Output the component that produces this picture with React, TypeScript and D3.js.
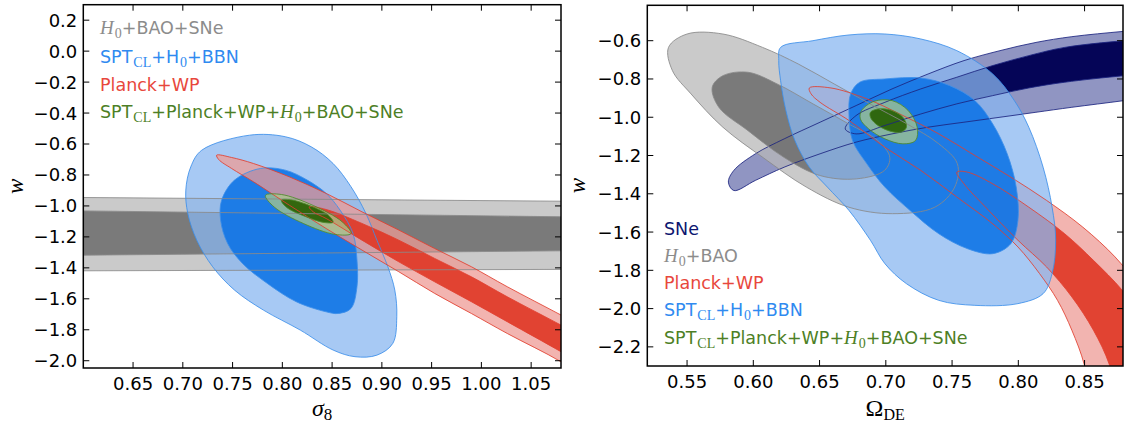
import React from 'react';
import * as d3 from 'd3';

type Pt = [number, number];

// ---- left panel: sigma_8 vs w ----
const sigma8Ticks = [0.65, 0.7, 0.75, 0.8, 0.85, 0.9, 0.95, 1.0, 1.05];
const wTicksLeft = [0.2, 0.0, -0.2, -0.4, -0.6, -0.8, -1.0, -1.2, -1.4, -1.6, -1.8, -2.0];

const grayBandOuter: Pt[] = [[0.55, -0.943], [1.13, -0.972], [1.13, -1.409], [0.55, -1.42]];
const grayBandInner: Pt[] = [[0.55, -1.028], [1.13, -1.074], [1.13, -1.287], [0.55, -1.321]];

const sptLeftOuter: Pt[] = [
  [0.767, -0.543], [0.719, -0.64], [0.708, -0.747], [0.703, -0.898], [0.705, -1.049], [0.714, -1.221],
  [0.73, -1.393], [0.752, -1.544], [0.781, -1.673], [0.818, -1.802], [0.851, -1.931], [0.873, -1.974],
  [0.895, -1.964], [0.911, -1.888], [0.915, -1.716], [0.913, -1.544], [0.906, -1.393], [0.895, -1.221],
  [0.884, -1.049], [0.869, -0.876], [0.851, -0.726], [0.829, -0.618], [0.803, -0.553],
];
const sptLeftInner: Pt[] = [
  [0.778, -0.758], [0.752, -0.833], [0.739, -0.963], [0.738, -1.092], [0.745, -1.242], [0.76, -1.372],
  [0.785, -1.501], [0.814, -1.619], [0.844, -1.684], [0.856, -1.695], [0.869, -1.662], [0.875, -1.522],
  [0.875, -1.35], [0.871, -1.178], [0.858, -1.027], [0.844, -0.919], [0.825, -0.833], [0.803, -0.769],
];
const planckLeftOuter: Pt[] = [
  [0.734, -0.672], [0.749, -0.687], [0.771, -0.726], [0.807, -0.812], [0.844, -0.919], [0.88, -1.038],
  [0.917, -1.156], [0.953, -1.275], [0.99, -1.393], [1.026, -1.522], [1.08, -1.705], [1.117, -1.834],
  [1.117, -2.168], [1.08, -2.007], [1.026, -1.824], [0.99, -1.695], [0.953, -1.565], [0.917, -1.425],
  [0.88, -1.285], [0.844, -1.146], [0.807, -0.995], [0.771, -0.844], [0.749, -0.758], [0.736, -0.7],
];
const planckLeftInner: Pt[] = [
  [0.827, -1.006], [0.844, -1.023], [0.88, -1.113], [0.917, -1.221], [0.953, -1.339], [0.99, -1.458],
  [1.026, -1.587], [1.08, -1.77], [1.117, -1.899], [1.117, -2.082], [1.08, -1.942], [1.026, -1.748],
  [0.99, -1.619], [0.953, -1.49], [0.917, -1.361], [0.88, -1.221], [0.844, -1.081], [0.831, -1.038],
];
const combinedLeftOuter: Pt[] = [
  [0.869, -1.178], [0.853, -1.184], [0.821, -1.113], [0.792, -1.008],
  [0.783, -0.932], [0.799, -0.926], [0.831, -0.997], [0.86, -1.102],
];
const combinedLeftInner: Pt[] = [
  [0.851, -1.105], [0.842, -1.107], [0.823, -1.068], [0.804, -1.008],
  [0.799, -0.963], [0.808, -0.96], [0.828, -0.999], [0.846, -1.059],
];

// ---- right panel: Omega_DE vs w ----
const omegaTicks = [0.55, 0.6, 0.65, 0.7, 0.75, 0.8, 0.85];
const wTicksRight = [-0.6, -0.8, -1.0, -1.2, -1.4, -1.6, -1.8, -2.0, -2.2];

const sneOuter: Pt[] = [
  [0.5812, -1.339], [0.5853, -1.278], [0.6016, -1.191], [0.6233, -1.113], [0.6504, -1.026], [0.6776, -0.939],
  [0.7047, -0.852], [0.7319, -0.774], [0.759, -0.704], [0.7862, -0.652], [0.8133, -0.609], [0.8404, -0.579],
  [0.8798, -0.551], [0.9164, -0.53], [0.9164, -0.878], [0.8798, -0.913], [0.8404, -0.948], [0.8133, -0.974],
  [0.7862, -1.0], [0.759, -1.026], [0.7319, -1.052], [0.7047, -1.087], [0.6776, -1.13], [0.6504, -1.191],
  [0.6233, -1.261], [0.6016, -1.33], [0.5853, -1.383],
];
const sneInner: Pt[] = [
  [0.6694, -1.061], [0.6776, -0.991], [0.6993, -0.922], [0.7264, -0.852], [0.7536, -0.791], [0.7807, -0.73],
  [0.8079, -0.678], [0.835, -0.635], [0.8798, -0.6], [0.9164, -0.583], [0.9164, -0.765], [0.8798, -0.783],
  [0.835, -0.817], [0.8079, -0.847], [0.7807, -0.887], [0.7536, -0.93], [0.7264, -0.983], [0.6993, -1.043],
  [0.6776, -1.087],
];
const baoOuter: Pt[] = [
  [0.536, -0.635], [0.55, -0.565], [0.577, -0.565], [0.607, -0.635], [0.634, -0.722], [0.661, -0.826],
  [0.688, -0.93], [0.716, -1.035], [0.74, -1.139], [0.754, -1.243], [0.752, -1.365], [0.737, -1.47],
  [0.705, -1.504], [0.672, -1.47], [0.64, -1.365], [0.607, -1.209], [0.577, -1.052], [0.553, -0.878],
  [0.539, -0.757],
];
const baoInner: Pt[] = [
  [0.569, -0.843], [0.577, -0.783], [0.596, -0.765], [0.618, -0.826], [0.645, -0.93], [0.672, -1.035],
  [0.694, -1.122], [0.703, -1.209], [0.699, -1.278], [0.678, -1.322], [0.65, -1.304], [0.623, -1.209],
  [0.596, -1.07], [0.574, -0.948],
];
const planckRightOuter: Pt[] = [
  [0.6423, -0.847], [0.6586, -0.847], [0.6857, -0.904], [0.7129, -0.991], [0.74, -1.087], [0.7672, -1.2],
  [0.7943, -1.313], [0.8214, -1.435], [0.8486, -1.574], [0.873, -1.73], [0.8893, -1.87], [0.9056, -2.043],
  [0.9164, -2.304], [0.9219, -2.565], [0.8567, -2.565], [0.8499, -2.296], [0.8404, -2.113], [0.8296, -1.957],
  [0.816, -1.817], [0.7997, -1.678], [0.7807, -1.557], [0.7536, -1.417], [0.7264, -1.278], [0.6993, -1.157],
  [0.6722, -1.017], [0.6504, -0.922], [0.6436, -0.878],
];
const planckRightInner: Pt[] = [
  [0.7536, -1.287], [0.7617, -1.287], [0.7807, -1.348], [0.8079, -1.47], [0.835, -1.609], [0.8567, -1.748],
  [0.8784, -1.904], [0.8947, -2.061], [0.9083, -2.304], [0.9137, -2.565], [0.8784, -2.565], [0.8689, -2.296],
  [0.8567, -2.113], [0.8404, -1.939], [0.8214, -1.783], [0.7997, -1.643], [0.7753, -1.47], [0.759, -1.348],
];
const sptRightOuter: Pt[] = [
  [0.6206, -0.635], [0.645, -0.6], [0.6722, -0.57], [0.6993, -0.565], [0.7264, -0.591], [0.7536, -0.652],
  [0.7807, -0.774], [0.797, -0.913], [0.8079, -1.052], [0.8187, -1.261], [0.8255, -1.47], [0.8282, -1.643],
  [0.8255, -1.817], [0.8187, -1.922], [0.7997, -1.974], [0.7672, -1.983], [0.74, -1.957], [0.7156, -1.87],
  [0.6993, -1.765], [0.6884, -1.643], [0.6722, -1.487], [0.6559, -1.365], [0.6423, -1.261], [0.6314, -1.122],
  [0.6246, -0.965], [0.6206, -0.809], [0.6192, -0.704],
];
const sptRightInner: Pt[] = [
  [0.6803, -0.817], [0.6993, -0.8], [0.7264, -0.795], [0.7482, -0.835], [0.7672, -0.913], [0.7807, -1.035],
  [0.7916, -1.191], [0.7984, -1.365], [0.7997, -1.539], [0.7943, -1.661], [0.7807, -1.713], [0.7617, -1.687],
  [0.74, -1.609], [0.7183, -1.487], [0.6993, -1.365], [0.6857, -1.243], [0.6749, -1.122], [0.6722, -0.983],
  [0.6735, -0.878],
];
const combinedRightOuter: Pt[] = [
  [0.6817, -0.965], [0.6911, -0.917], [0.7047, -0.913], [0.7169, -0.965], [0.7237, -1.052],
  [0.7224, -1.122], [0.7129, -1.139], [0.6993, -1.113], [0.6871, -1.061], [0.6808, -1.009],
];
const combinedRightInner: Pt[] = [
  [0.6884, -0.974], [0.6939, -0.957], [0.7034, -0.962], [0.7129, -1.0], [0.7156, -1.052],
  [0.7115, -1.078], [0.702, -1.07], [0.6925, -1.035], [0.6884, -1.0],
];

// ---- styles ----
const PALETTE: Record<string, { outer: string; inner: string; line: string; text: string; innerOpacity: number }> = {
  gray: { outer: '#b8b8b8', inner: '#717171', line: '#8a8a8a', text: '#8c8c8c', innerOpacity: 0.9 },
  blue: { outer: '#8ab7f0', inner: '#1074e5', line: '#3d8fea', text: '#2f8af0', innerOpacity: 0.9 },
  red: { outer: '#ee9b96', inner: '#df3625', line: '#e2402f', text: '#e8473c', innerOpacity: 0.9 },
  green: { outer: '#a9c88a', inner: '#265e00', line: '#4e8a2c', text: '#4d7f26', innerOpacity: 0.9 },
  navy: { outer: '#6b72ae', inner: '#000054', line: '#1c2580', text: '#0d1670', innerOpacity: 0.97 },
};

type Seg = { t: string; k?: 'mi' | 'sub' };
const lblBaoSne: Seg[] = [{ t: 'H', k: 'mi' }, { t: '0', k: 'sub' }, { t: '+BAO+SNe' }];
const lblSpt: Seg[] = [{ t: 'SPT' }, { t: 'CL', k: 'sub' }, { t: '+H' }, { t: '0', k: 'sub' }, { t: '+BBN' }];
const lblPlanck: Seg[] = [{ t: 'Planck+WP' }];
const lblAll: Seg[] = [
  { t: 'SPT' }, { t: 'CL', k: 'sub' }, { t: '+Planck+WP+' }, { t: 'H', k: 'mi' }, { t: '0', k: 'sub' }, { t: '+BAO+SNe' },
];
const lblSne: Seg[] = [{ t: 'SNe' }];
const lblBao: Seg[] = [{ t: 'H', k: 'mi' }, { t: '0', k: 'sub' }, { t: '+BAO' }];

type Layer = { color: string; outer: Pt[]; inner: Pt[]; linear?: boolean };

const SANS = 'DejaVu Sans, sans-serif';
const SERIF = 'Liberation Serif, DejaVu Serif, serif';

function RichText({ segs, x, y, fill }: { segs: Seg[]; x: number; y: number; fill: string }) {
  let shift = 0;
  return (
    <text x={x} y={y} fill={fill} fontFamily={SANS} fontSize={17.5}>
      {segs.map((s, i) => {
        const target = s.k === 'sub' ? 4 : 0;
        const dy = target - shift;
        shift = target;
        if (s.k === 'sub') {
          return <tspan key={i} dy={dy} dx={1} fontFamily={SERIF} fontSize={14}>{s.t}</tspan>;
        }
        if (s.k === 'mi') {
          return <tspan key={i} dy={dy} fontFamily={SERIF} fontStyle="italic" fontSize={19}>{s.t}</tspan>;
        }
        return <tspan key={i} dy={dy}>{s.t}</tspan>;
      })}
    </text>
  );
}

type PanelProps = {
  id: string;
  box: { x0: number; x1: number; y0: number; y1: number };
  xDomain: [number, number];
  yDomain: [number, number];
  xTicks: number[];
  yTicks: number[];
  layers: Layer[];
  legend: { segs: Seg[]; color: string }[];
  legendX: number;
  legendY: number[];
  xLabel: React.ReactNode;
  yLabelX: number;
};

function Panel(p: PanelProps) {
  const { box } = p;
  const x = d3.scaleLinear().domain(p.xDomain).range([box.x0, box.x1]);
  const y = d3.scaleLinear().domain(p.yDomain).range([box.y1, box.y0]);
  const smooth = d3.line<Pt>().x((d) => x(d[0])).y((d) => y(d[1])).curve(d3.curveCatmullRomClosed.alpha(0.5));
  const straight = d3.line<Pt>().x((d) => x(d[0])).y((d) => y(d[1])).curve(d3.curveLinearClosed);
  const fx = d3.format('.2f');
  const fy = d3.format('.1f');
  const tick = 6;
  const cy = (box.y0 + box.y1) / 2;

  return (
    <g>
      <defs>
        <clipPath id={`clip-${p.id}`}>
          <rect x={box.x0} y={box.y0} width={box.x1 - box.x0} height={box.y1 - box.y0} />
        </clipPath>
      </defs>
      <g clipPath={`url(#clip-${p.id})`}>
        {p.layers.map((l, i) => {
          const c = PALETTE[l.color];
          const gen = l.linear ? straight : smooth;
          return (
            <g key={`f${i}`}>
              <path d={gen(l.outer) || ''} fill={c.outer} fillOpacity={0.75} />
              <path d={gen(l.inner) || ''} fill={c.inner} fillOpacity={c.innerOpacity} />
            </g>
          );
        })}
        {p.layers.map((l, i) => {
          const c = PALETTE[l.color];
          const gen = l.linear ? straight : smooth;
          return (
            <g key={`s${i}`} fill="none" stroke={c.line} strokeWidth={1} strokeOpacity={0.85}>
              <path d={gen(l.outer) || ''} />
              <path d={gen(l.inner) || ''} />
            </g>
          );
        })}
      </g>

      {p.xTicks.map((t) => (
        <g key={`xt${t}`}>
          <line x1={x(t)} x2={x(t)} y1={box.y1} y2={box.y1 - tick} stroke="#000" />
          <line x1={x(t)} x2={x(t)} y1={box.y0} y2={box.y0 + tick} stroke="#000" />
          <text x={x(t)} y={box.y1 + 22} textAnchor="middle" fontFamily={SANS} fontSize={18}>{fx(t)}</text>
        </g>
      ))}
      {p.yTicks.map((t) => (
        <g key={`yt${t}`}>
          <line x1={box.x0} x2={box.x0 + tick} y1={y(t)} y2={y(t)} stroke="#000" />
          <line x1={box.x1} x2={box.x1 - tick} y1={y(t)} y2={y(t)} stroke="#000" />
          <text x={box.x0 - 6} y={y(t)} dy="0.36em" textAnchor="end" fontFamily={SANS} fontSize={18}>{fy(t)}</text>
        </g>
      ))}
      <rect x={box.x0} y={box.y0} width={box.x1 - box.x0} height={box.y1 - box.y0} fill="none" stroke="#000" strokeWidth={1.5} />

      {p.legend.map((e, i) => (
        <RichText key={i} segs={e.segs} x={p.legendX} y={p.legendY[i]} fill={PALETTE[e.color].text} />
      ))}

      <text
        transform={`translate(${p.yLabelX},${cy}) rotate(-90)`}
        textAnchor="middle"
        fontFamily={SERIF}
        fontStyle="italic"
        fontSize={23}
      >
        w
      </text>
      <g transform={`translate(${(box.x0 + box.x1) / 2},416)`}>{p.xLabel}</g>
    </g>
  );
}

export default function App() {
  const leftLayers: Layer[] = [
    { color: 'gray', outer: grayBandOuter, inner: grayBandInner, linear: true },
    { color: 'blue', outer: sptLeftOuter, inner: sptLeftInner },
    { color: 'red', outer: planckLeftOuter, inner: planckLeftInner },
    { color: 'green', outer: combinedLeftOuter, inner: combinedLeftInner },
  ];
  const rightLayers: Layer[] = [
    { color: 'navy', outer: sneOuter, inner: sneInner },
    { color: 'gray', outer: baoOuter, inner: baoInner },
    { color: 'red', outer: planckRightOuter, inner: planckRightInner },
    { color: 'blue', outer: sptRightOuter, inner: sptRightInner },
    { color: 'green', outer: combinedRightOuter, inner: combinedRightInner },
  ];

  return (
    <svg
      width={1127}
      height={426}
      style={{ position: 'absolute', left: 0, top: 0, background: '#fff' }}
    >
      <Panel
        id="left"
        box={{ x0: 83.3, x1: 561, y0: 4.7, y1: 368 }}
        xDomain={[0.6, 1.08]}
        yDomain={[-2.047, 0.3]}
        xTicks={sigma8Ticks}
        yTicks={wTicksLeft}
        layers={leftLayers}
        legend={[
          { segs: lblBaoSne, color: 'gray' },
          { segs: lblSpt, color: 'blue' },
          { segs: lblPlanck, color: 'red' },
          { segs: lblAll, color: 'green' },
        ]}
        legendX={100}
        legendY={[34, 63, 91, 118]}
        yLabelX={23}
        xLabel={
          <text textAnchor="middle" fontFamily={SERIF} fontSize={24}>
            <tspan fontStyle="italic">σ</tspan>
            <tspan fontSize={17} dy={4}>8</tspan>
          </text>
        }
      />
      <Panel
        id="right"
        box={{ x0: 647.3, x1: 1123, y0: 5.3, y1: 366 }}
        xDomain={[0.52, 0.879]}
        yDomain={[-2.3, -0.415]}
        xTicks={omegaTicks}
        yTicks={wTicksRight}
        layers={rightLayers}
        legend={[
          { segs: lblSne, color: 'navy' },
          { segs: lblBao, color: 'gray' },
          { segs: lblPlanck, color: 'red' },
          { segs: lblSpt, color: 'blue' },
          { segs: lblAll, color: 'green' },
        ]}
        legendX={664}
        legendY={[235, 262, 289, 316, 344]}
        yLabelX={585}
        xLabel={
          <text textAnchor="middle" fontFamily={SERIF} fontSize={24}>
            <tspan>Ω</tspan>
            <tspan fontSize={16} dy={4}>DE</tspan>
          </text>
        }
      />
    </svg>
  );
}
